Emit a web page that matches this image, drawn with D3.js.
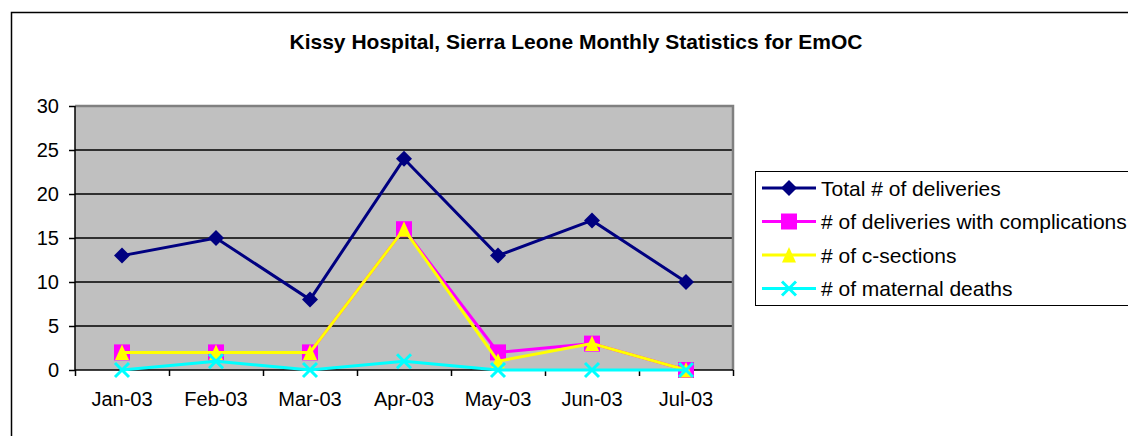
<!DOCTYPE html>
<html>
<head>
<meta charset="utf-8">
<script src="https://cdn.jsdelivr.net/npm/d3@7"></script>
<style>
    body { margin: 0; background: #fff; }
    svg { display: block; font-family: "Liberation Sans", Arial, sans-serif; }
</style>
</head>
<body>
<div id="chart"></div>
<script>
const months = ["Jan-03", "Feb-03", "Mar-03", "Apr-03", "May-03", "Jun-03", "Jul-03"];
const totalDeliveries = [13, 15, 8, 24, 13, 17, 10];
const complications = [2, 2, 2, 16, 2, 3, 0];
const cSections = [2, 2, 2, 16, 1, 3, 0];
const maternalDeaths = [0, 1, 0, 1, 0, 0, 0];
const yTicks = [0, 5, 10, 15, 20, 25, 30];

const series = [
    { name: "Total # of deliveries", values: totalDeliveries, color: "#000080", marker: "diamond" },
    { name: "# of deliveries with complications", values: complications, color: "#FF00FF", marker: "square" },
    { name: "# of c-sections", values: cSections, color: "#FFFF00", marker: "triangle" },
    { name: "# of maternal deaths", values: maternalDeaths, color: "#00FFFF", marker: "cross" },
];

const width = 1128;
const height = 436;
const marginLeft = 75;
const marginRight = 395; // plot ends at 733
const marginTop = 106;
const marginBottom = 66; // plot ends at 370

const svg = d3.select("#chart")
    .append("svg")
    .attr("width", width)
    .attr("height", height);

// outer chart frame (runs off the right and bottom)
svg.append("path")
    .attr("d", `M11.5,${height + 5}V12.5H${width + 5}`)
    .attr("fill", "none")
    .attr("stroke", "#000")
    .attr("stroke-width", 1.5);

// title
svg.append("text")
    .attr("x", 576)
    .attr("y", 49)
    .attr("text-anchor", "middle")
    .attr("font-weight", "bold")
    .attr("font-size", 21)
    .text("Kissy Hospital, Sierra Leone Monthly Statistics for EmOC");

// scales
const x = d3.scaleBand()
    .domain(months)
    .range([marginLeft, width - marginRight])
    .padding(0);
const xEdge = d3.scaleLinear()
    .domain([0, months.length])
    .range([marginLeft, width - marginRight]);
const y = d3.scaleLinear()
    .domain([0, 30])
    .range([height - marginBottom, marginTop]);
const cx = (m) => x(m) + x.bandwidth() / 2;

// plot area
svg.append("rect")
    .attr("x", marginLeft)
    .attr("y", marginTop)
    .attr("width", width - marginRight - marginLeft)
    .attr("height", height - marginBottom - marginTop)
    .attr("fill", "#C0C0C0");

// gridlines
svg.append("g")
    .selectAll("line")
    .data(yTicks.filter((t) => t > 0 && t < 30))
    .enter()
    .append("line")
    .attr("x1", marginLeft)
    .attr("x2", width - marginRight)
    .attr("y1", (d) => y(d))
    .attr("y2", (d) => y(d))
    .attr("stroke", "#000")
    .attr("stroke-width", 1.3);

// gray top/right border of plot area
svg.append("path")
    .attr("d", `M${marginLeft},${y(30)}H${width - marginRight}V${y(0)}`)
    .attr("fill", "none")
    .attr("stroke", "#808080")
    .attr("stroke-width", 2.5);

// y axis
svg.append("g")
    .attr("transform", `translate(${marginLeft},0)`)
    .call(d3.axisLeft(y).tickValues(yTicks).tickSize(6).tickPadding(10))
    .call((g) => g.selectAll("line, path").attr("stroke", "#000").attr("stroke-width", 1.5))
    .call((g) => g.select(".domain").attr("d", `M0,${y(30)}V${y(0)}`))
    .call((g) => g.selectAll("text")
        .attr("font-size", 20)
        .attr("font-family", "Liberation Sans, Arial, sans-serif")
        .attr("fill", "#000"));

// x axis: ticks at category edges
svg.append("g")
    .attr("transform", `translate(0,${height - marginBottom})`)
    .call(d3.axisBottom(xEdge).tickValues(d3.range(months.length + 1)).tickSize(6).tickFormat(""))
    .call((g) => g.selectAll("line, path").attr("stroke", "#000").attr("stroke-width", 1.5))
    .call((g) => g.select(".domain").attr("d", `M${marginLeft},0H${width - marginRight}`));

// x axis labels
svg.append("g")
    .attr("transform", `translate(0,${height - marginBottom})`)
    .call(d3.axisBottom(x).tickSize(0).tickPadding(22))
    .call((g) => g.select(".domain").remove())
    .call((g) => g.selectAll("text")
        .attr("font-size", 20)
        .attr("font-family", "Liberation Sans, Arial, sans-serif")
        .attr("fill", "#000"));

// markers
function drawMarker(g, type, color) {
    if (type === "diamond") {
        g.append("path").attr("d", "M0,-8L8,0L0,8L-8,0Z").attr("fill", color);
    } else if (type === "square") {
        g.append("rect").attr("x", -8).attr("y", -8).attr("width", 16).attr("height", 16).attr("fill", color);
    } else if (type === "triangle") {
        g.append("path").attr("d", "M0,-8L7,7.5L-7,7.5Z").attr("fill", color);
    } else if (type === "cross") {
        g.append("path").attr("d", "M-7,-7L7,7M7,-7L-7,7")
            .attr("stroke", color).attr("stroke-width", 3).attr("fill", "none");
    }
}

const line = d3.line()
    .x((d, i) => cx(months[i]))
    .y((d) => y(d));

for (const s of series) {
    const g = svg.append("g");
    g.append("path")
        .attr("d", line(s.values))
        .attr("fill", "none")
        .attr("stroke", s.color)
        .attr("stroke-width", 3);
    s.values.forEach((v, i) => {
        const m = g.append("g").attr("transform", `translate(${cx(months[i])},${y(v)})`);
        drawMarker(m, s.marker, s.color);
    });
}

// legend
const legendX = 755;
const legendTop = 171;
const legendRowY = [188, 221.5, 255, 288.5];
svg.append("rect")
    .attr("x", legendX + 0.5)
    .attr("y", legendTop + 0.5)
    .attr("width", width - legendX + 10)
    .attr("height", 134)
    .attr("fill", "#fff")
    .attr("stroke", "#000")
    .attr("stroke-width", 1);

series.forEach((s, i) => {
    const g = svg.append("g").attr("transform", `translate(0,${legendRowY[i]})`);
    g.append("line")
        .attr("x1", 762)
        .attr("x2", 816)
        .attr("stroke", s.color)
        .attr("stroke-width", 3);
    const m = g.append("g").attr("transform", "translate(789,0)");
    drawMarker(m, s.marker, s.color);
    g.append("text")
        .attr("x", 821)
        .attr("y", 7.5)
        .attr("font-size", 21)
        .attr("fill", "#000")
        .text(s.name);
});
</script>
</body>
</html>
